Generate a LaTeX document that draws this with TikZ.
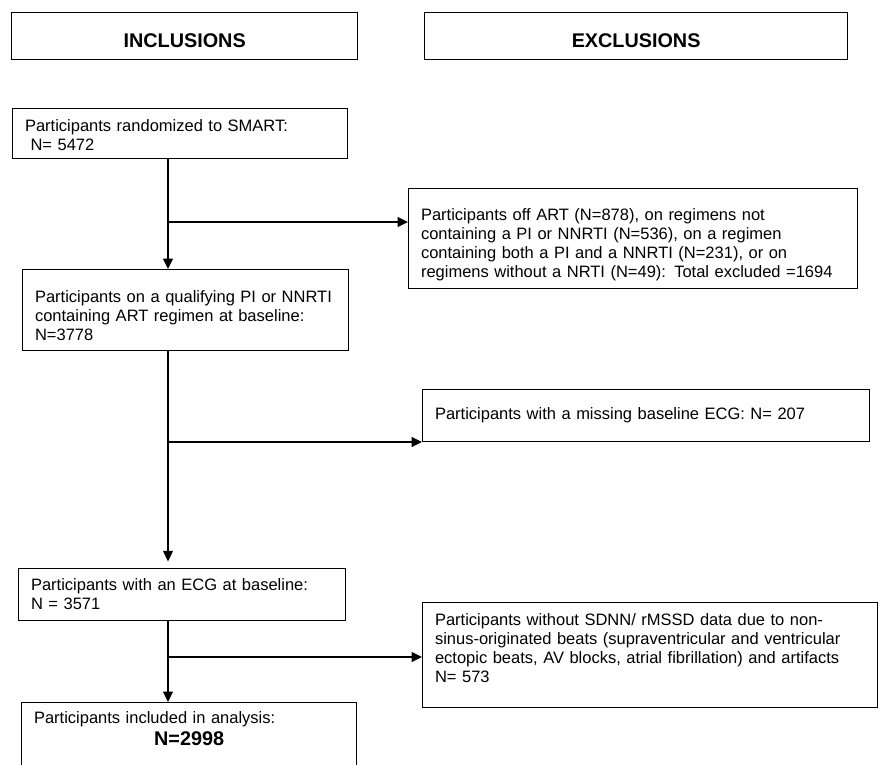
\documentclass[tikz,border=0pt]{standalone}
\usepackage{fontspec}
\setmainfont{Liberation Sans}
\usetikzlibrary{arrows.meta}

\tikzset{
  flowbox/.style n args={3}{draw, line width=0.8pt, anchor=north west, align=left,
    inner xsep=7.5pt, inner ysep=0pt, text width=#1, text height=#2, text depth=#3,
    font=\fontsize{10pt}{11.5pt}\selectfont},
  headbox/.style={flowbox={#1}{21.2pt}{7.3pt}, align=center,
    font=\fontsize{12pt}{14pt}\selectfont\bfseries},
  flowline/.style={line width=0.75pt},
  flowarrow/.style={flowline, -{Triangle[length=6.3pt,width=6pt]}},
}

\begin{document}
\begin{tikzpicture}[x=0.606pt, y=-0.606pt]
    \useasboundingbox (0,0) rectangle (881,764);

    % Define nodes
    \node[headbox=194.7pt] (inc) at (11,12) {INCLUSIONS};
    \node[headbox=241.3pt] (exc) at (424,12) {EXCLUSIONS};
    \node[flowbox={188pt}{13.9pt}{16.4pt}]   (rand) at (12,108)
      {Participants randomized to SMART:\\\mbox{} N= 5472};
    \node[flowbox={182.6pt}{20pt}{29.1pt}]   (qual) at (22,269)
      {Participants on a qualifying PI or NNRTI\\containing ART regimen at baseline:\\N=3778};
    \node[flowbox={183.2pt}{13.3pt}{18.2pt}] (ecg) at (18,568)
      {Participants with an ECG at baseline:\\N = 3571};
    \node[flowbox={188pt}{12.7pt}{28.5pt}]   (incl) at (21,702)
      {Participants included in analysis:\\[1.8pt]\makebox[\linewidth]{\fontsize{12pt}{14pt}\selectfont\bfseries N=2998}};
    \node[flowbox={257.1pt}{19.4pt}{41.2pt}] (off) at (408,188)
      {Participants off ART (N=878), on regimens not\\containing a PI or NNRTI (N=536), on a regimen\\containing both a PI and a NNRTI (N=231), or on\\regimens without a NRTI (N=49): Total excluded =1694};
    \node[flowbox={255.9pt}{18.2pt}{13.3pt}] (miss) at (422,389)
      {Participants with a missing baseline ECG: N= 207};
    \node[flowbox={260.7pt}{13.9pt}{49.7pt}] (sinus) at (422,602)
      {Participants without SDNN/ rMSSD data due to non-\\sinus-originated beats (supraventricular and ventricular\\ectopic beats, AV blocks, atrial fibrillation) and artifacts\\N= 573};

    % Connect the nodes
    \coordinate (trunk)  at (168,0);
    \coordinate (split1) at (168,222);
    \coordinate (split2) at (168,442);
    \coordinate (split3) at (168,657);
    \draw[flowarrow] (trunk |- rand.south) -- (trunk |- qual.north);
    \draw[flowarrow] (split1) -- (split1 -| off.west);
    \draw[flowarrow] (trunk |- qual.south) -- ++(0,210);
    \draw[flowarrow] (split2) -- (split2 -| miss.west);
    \draw[flowarrow] (trunk |- ecg.south) -- (trunk |- incl.north);
    \draw[flowarrow] (split3) -- (split3 -| sinus.west);

\end{tikzpicture}
\end{document}
